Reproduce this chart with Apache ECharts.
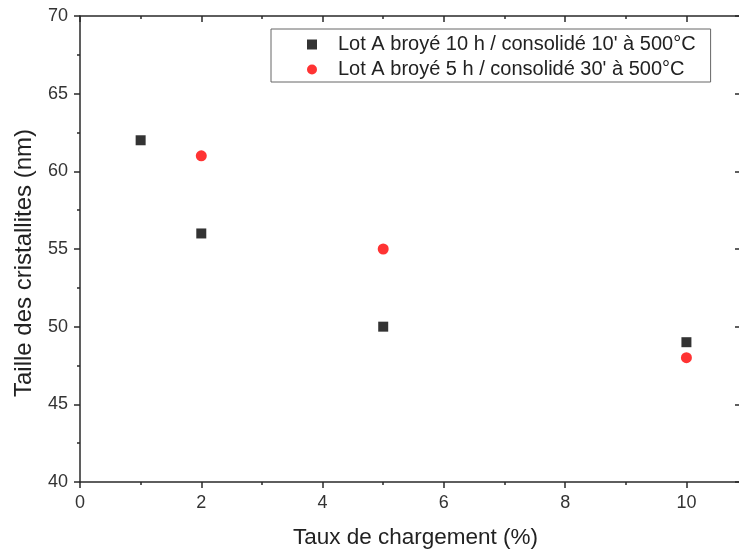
<!DOCTYPE html>
<html><head><meta charset="utf-8">
<script src="https://cdn.jsdelivr.net/npm/echarts@6/dist/echarts.min.js"></script>
<style>html,body{margin:0;padding:0;background:#fff}#c{width:739px;height:554px}</style>
</head><body><div id="c"></div>
<script>
const seriesNames = ["Lot A broyé 10 h / consolidé 10' à 500°C", "Lot A broyé 5 h / consolidé 30' à 500°C"];
const xBlack = [1, 2, 5, 10];
const yBlack = [62, 56, 50, 49];
const xRed = [2, 5, 10];
const yRed = [61, 55, 48];
const xTitle = 'Taux de chargement (%)';
const yTitle = 'Taille des cristallites (nm)';

const font = 'Liberation Sans, Arial, sans-serif';
const axCol = '#2a2a2a';
const chart = echarts.init(document.getElementById('c'));
const baseAxis = {
  axisLine: {show: true, onZero: false, lineStyle: {color: axCol, width: 1.5}},
  splitLine: {show: false},
};
chart.setOption({
  animation: false,
  grid: {left: 80, top: 16, width: 661, height: 466, containLabel: false, outerBoundsMode: 'none'},
  legend: {
    orient: 'vertical', left: 271, top: 29,
    data: seriesNames,
    borderColor: '#666', borderWidth: 1, borderRadius: 0,
    padding: [5, 15, 2, 36],
    itemWidth: 10, itemHeight: 10, itemGap: 4,
    textStyle: {fontFamily: font, fontSize: 20, color: '#222', lineHeight: 21, padding: [0, 0, 0, 16]}
  },
  xAxis: [
    Object.assign({}, baseAxis, {
      type: 'value', min: 0, max: 10.9, interval: 2, position: 'bottom',
      name: xTitle, nameLocation: 'middle', nameGap: 44,
      nameTextStyle: {fontFamily: font, fontSize: 22.5, color: '#222', padding: [0, 0, 0, 10]},
      axisTick: {show: true, inside: false, length: 6, lineStyle: {color: axCol, width: 1.5}},
      minorTick: {show: true, splitNumber: 2, length: 3, lineStyle: {color: axCol, width: 1.5}},
      axisLabel: {fontFamily: font, fontSize: 18, color: '#333', margin: 12, showMaxLabel: false}
    }),
    Object.assign({}, baseAxis, {
      type: 'value', min: 0, max: 10.9, interval: 2, position: 'top',
      axisTick: {show: true, inside: true, length: 6, lineStyle: {color: axCol, width: 1.5}},
      minorTick: {show: true, splitNumber: 2, length: 3, lineStyle: {color: axCol, width: 1.5}},
      axisLabel: {show: false}
    })
  ],
  yAxis: [
    Object.assign({}, baseAxis, {
      type: 'value', min: 40, max: 70, interval: 5, position: 'left',
      name: yTitle, nameLocation: 'middle', nameGap: 44, nameRotate: 90,
      nameTextStyle: {fontFamily: font, fontSize: 24, color: '#222', padding: [0, 28, 0, 0]},
      axisTick: {show: true, inside: false, length: 6, lineStyle: {color: axCol, width: 1.5}},
      minorTick: {show: true, splitNumber: 2, length: 3, lineStyle: {color: axCol, width: 1.5}},
      axisLabel: {fontFamily: font, fontSize: 18, color: '#333', margin: 12}
    }),
    Object.assign({}, baseAxis, {
      type: 'value', min: 40, max: 70, interval: 5, position: 'right',
      axisTick: {show: true, inside: true, length: 6, lineStyle: {color: axCol, width: 1.5}},
      minorTick: {show: true, splitNumber: 2, length: 2, lineStyle: {color: axCol, width: 1.5}},
      axisLabel: {show: false}
    })
  ],
  series: [
    {name: seriesNames[0], type: 'scatter', symbol: 'rect', symbolSize: 10,
     itemStyle: {color: '#000'}, data: xBlack.map((x, i) => [x, yBlack[i]])},
    {name: seriesNames[1], type: 'scatter', symbol: 'circle', symbolSize: 11,
     itemStyle: {color: '#f00'}, data: xRed.map((x, i) => [x, yRed[i]])}
  ]
});
</script></body></html>
